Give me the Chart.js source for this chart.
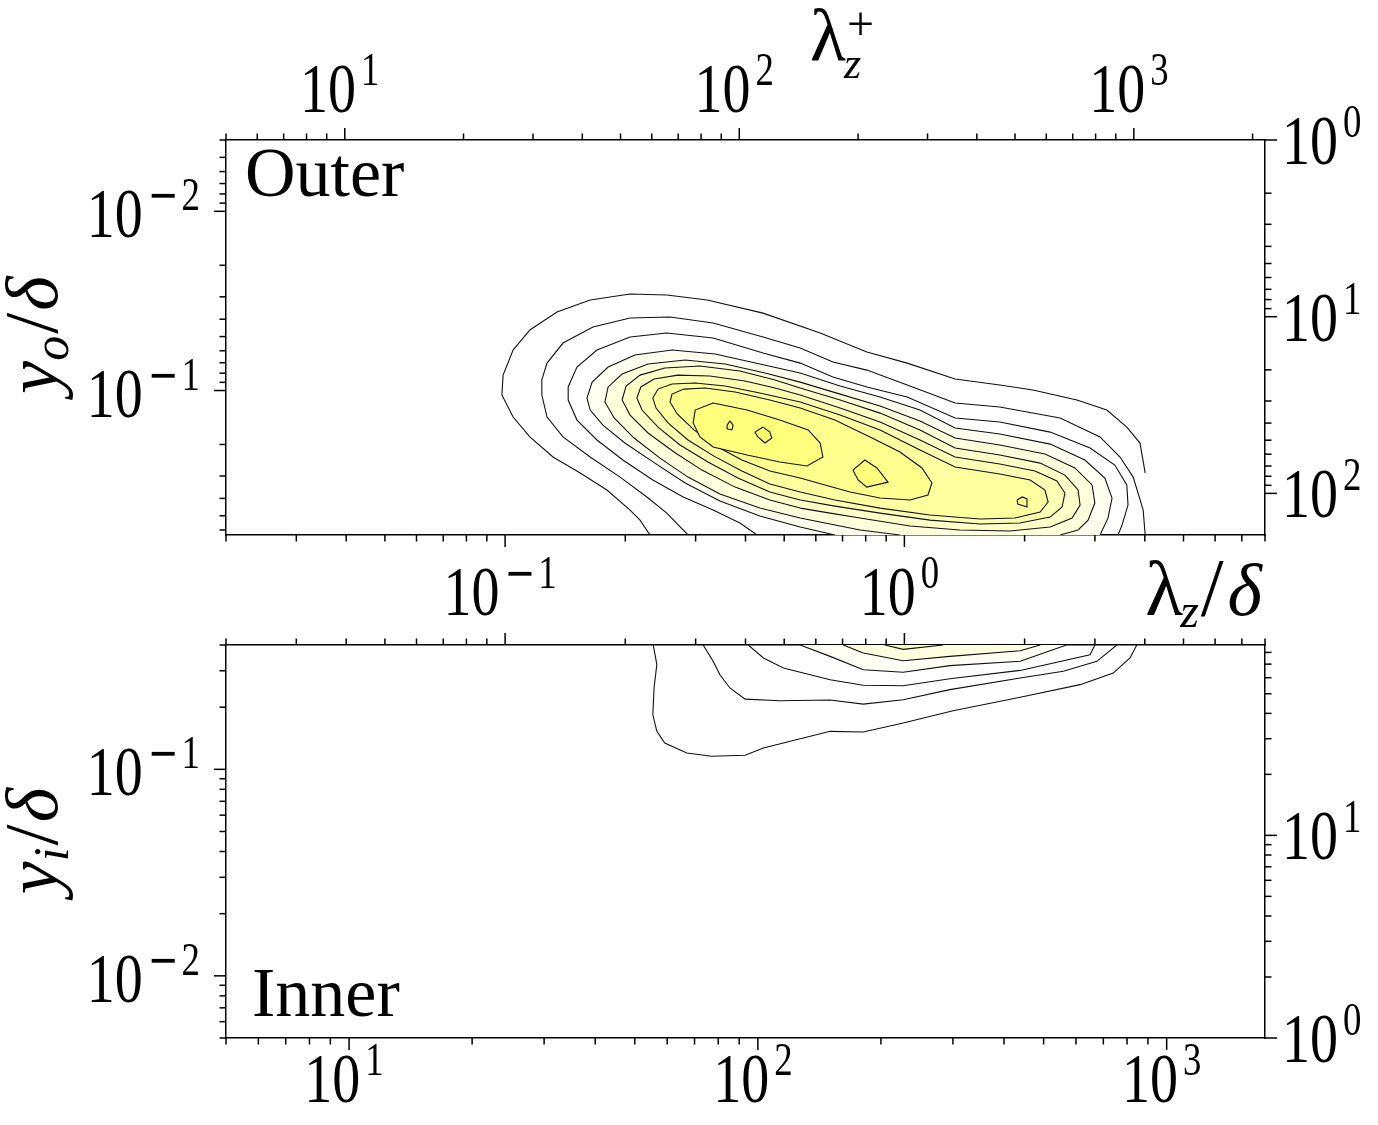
<!DOCTYPE html>
<html>
<head>
<meta charset="utf-8">
<script src="https://cdn.jsdelivr.net/npm/chart.js@4.4.1/dist/chart.umd.min.js"></script>
<style>
  body { margin: 0; background: #fff; }
  #wrap { position: relative; width: 1378px; height: 1125px; }
  canvas { position: absolute; left: 0; }
  #outer { top: 0; }
  #inner { top: 540px; }
</style>
</head>
<body>
<div id="wrap">
  <canvas id="outer" width="1378" height="550"></canvas>
  <canvas id="inner" width="1378" height="585"></canvas>
</div>
<script>
// axis ranges
const lamDeltaRange = [0.02, 8];
const outerLamPlusRange = [5, 2150];
const outerYRange = [0.004, 0.64];
const outerYPlusRange = [1, 172];
const innerLamPlusRange = [5, 1740];
const innerYRange = [0.005, 0.4];
const innerYPlusRange = [1, 87];

// labelled (major) ticks
const lamDeltaTicks = [0.1, 1];
const lamPlusTicks = [10, 100, 1000];
const outerYTicks = [0.01, 0.1];
const outerYPlusTicks = [1, 10, 100];
const innerYTicks = [0.01, 0.1];
const innerYPlusTicks = [1, 10];

// contour lines as [log10(lambda_z/delta), log10(y/delta)]
// outer region (top panel), outermost level first
const outerLevelA = [[-0.637,-0.194],[-0.662,-0.277],[-0.687,-0.333],[-0.745,-0.445],[-0.812,-0.540],[-0.880,-0.629],
  [-0.938,-0.741],[-0.980,-0.852],[-1.008,-0.975],[-1.005,-1.086],[-0.980,-1.226],[-0.938,-1.338],[-0.870,-1.438],
  [-0.787,-1.505],[-0.687,-1.539],[-0.595,-1.533],[-0.494,-1.505],[-0.354,-1.432],[-0.211,-1.321],[-0.094,-1.215],
  [0.007,-1.153],[0.127,-1.064],[0.239,-1.031],[0.322,-1.003],[0.432,-0.947],[0.507,-0.891],[0.557,-0.796],
  [0.590,-0.707],[0.603,-0.540]];
const outerLevelB = [[-0.542,-0.194],[-0.595,-0.316],[-0.645,-0.406],[-0.712,-0.517],[-0.787,-0.629],[-0.855,-0.741],
  [-0.895,-0.852],[-0.908,-0.975],[-0.908,-1.059],[-0.895,-1.153],[-0.855,-1.265],[-0.780,-1.354],[-0.687,-1.405],
  [-0.587,-1.410],[-0.479,-1.377],[-0.354,-1.299],[-0.261,-1.237],[-0.179,-1.159],[-0.094,-1.114],[0.007,-1.031],
  [0.127,-0.930],[0.239,-0.908],[0.390,-0.847],[0.490,-0.741],[0.540,-0.629],[0.573,-0.517],[0.598,-0.333],
  [0.603,-0.194]];
const outerLevelC = [[-0.369,-0.194],[-0.412,-0.261],[-0.479,-0.333],[-0.554,-0.406],[-0.630,-0.501],[-0.705,-0.612],
  [-0.770,-0.724],[-0.820,-0.835],[-0.842,-0.947],[-0.842,-1.020],[-0.820,-1.131],[-0.770,-1.226],[-0.687,-1.299],
  [-0.595,-1.321],[-0.479,-1.293],[-0.354,-1.209],[-0.261,-1.153],[-0.179,-1.075],[-0.094,-1.020],[0.007,-0.964],
  [0.127,-0.847],[0.239,-0.824],[0.365,-0.768],[0.465,-0.679],[0.527,-0.584],[0.557,-0.473],[0.560,-0.361],
  [0.545,-0.249],[0.535,-0.194]];
const outerLevelD = [[-0.174,-0.194],[-0.261,-0.238],[-0.362,-0.300],[-0.462,-0.383],[-0.549,-0.484],[-0.625,-0.595],
  [-0.700,-0.707],[-0.755,-0.807],[-0.787,-0.891],[-0.795,-0.958],[-0.782,-1.047],[-0.742,-1.131],[-0.675,-1.198],
  [-0.582,-1.226],[-0.474,-1.204],[-0.362,-1.148],[-0.261,-1.098],[-0.161,-1.025],[-0.061,-0.964],[0.039,-0.891],
  [0.127,-0.791],[0.239,-0.757],[0.365,-0.701],[0.452,-0.612],[0.502,-0.512],[0.520,-0.400],[0.510,-0.289],
  [0.490,-0.194]];
const outerLevelE = [[-0.011,-0.194],[-0.111,-0.222],[-0.186,-0.255],[-0.261,-0.289],[-0.362,-0.344],[-0.462,-0.422],
  [-0.542,-0.517],[-0.612,-0.623],[-0.677,-0.735],[-0.727,-0.847],[-0.750,-0.936],[-0.742,-1.020],[-0.707,-1.092],
  [-0.642,-1.148],[-0.549,-1.170],[-0.449,-1.148],[-0.349,-1.098],[-0.261,-1.047],[-0.161,-0.980],[-0.061,-0.914],
  [0.039,-0.830],[0.127,-0.735],[0.239,-0.696],[0.352,-0.646],[0.427,-0.568],[0.470,-0.473],[0.477,-0.372],
  [0.460,-0.277],[0.435,-0.222],[0.390,-0.194]];
const outerLevelF = [[-0.261,-0.344],[-0.337,-0.389],[-0.424,-0.461],[-0.507,-0.556],[-0.577,-0.657],[-0.642,-0.763],
  [-0.687,-0.863],[-0.707,-0.947],[-0.697,-1.025],[-0.662,-1.086],[-0.600,-1.126],[-0.512,-1.137],[-0.412,-1.109],
  [-0.324,-1.059],[-0.261,-1.014],[-0.161,-0.947],[-0.061,-0.874],[0.039,-0.780],[0.127,-0.679],[0.239,-0.640],
  [0.340,-0.595],[0.402,-0.528],[0.435,-0.445],[0.440,-0.361],[0.420,-0.289],[0.365,-0.238],[0.264,-0.216],
  [0.139,-0.222],[0.014,-0.244],[-0.111,-0.289],[-0.186,-0.316],[-0.261,-0.344]];
const outerLevelG = [[-0.261,-0.389],[-0.337,-0.434],[-0.417,-0.512],[-0.492,-0.601],[-0.562,-0.696],[-0.617,-0.796],
  [-0.657,-0.891],[-0.670,-0.958],[-0.660,-1.020],[-0.627,-1.064],[-0.567,-1.086],[-0.487,-1.081],[-0.399,-1.053],
  [-0.324,-1.014],[-0.261,-0.975],[-0.161,-0.902],[-0.061,-0.824],[0.039,-0.724],[0.127,-0.629],[0.239,-0.590],
  [0.327,-0.551],[0.382,-0.495],[0.402,-0.428],[0.395,-0.350],[0.365,-0.294],[0.289,-0.261],[0.189,-0.255],
  [0.064,-0.277],[-0.061,-0.316],[-0.174,-0.355],[-0.261,-0.389]];
const outerLevelH = [[-0.261,-0.434],[-0.337,-0.478],[-0.407,-0.551],[-0.477,-0.634],[-0.542,-0.724],[-0.592,-0.819],
  [-0.622,-0.902],[-0.630,-0.958],[-0.617,-1.008],[-0.582,-1.036],[-0.524,-1.042],[-0.449,-1.025],[-0.362,-0.986],
  [-0.261,-0.936],[-0.161,-0.863],[-0.061,-0.780],[0.039,-0.668],[0.127,-0.573],[0.239,-0.534],[0.315,-0.501],
  [0.352,-0.445],[0.360,-0.378],[0.340,-0.322],[0.277,-0.289],[0.189,-0.283],[0.064,-0.305],[-0.061,-0.344],
  [-0.174,-0.389],[-0.261,-0.434]];
const outerLevelI = [[-0.261,-0.512],[-0.337,-0.551],[-0.407,-0.612],[-0.472,-0.690],[-0.527,-0.780],[-0.569,-0.869],
  [-0.587,-0.936],[-0.582,-0.980],[-0.552,-1.008],[-0.499,-1.014],[-0.424,-0.992],[-0.337,-0.947],[-0.261,-0.902],
  [-0.174,-0.835],[-0.086,-0.741],[-0.011,-0.657],[0.044,-0.568],[0.069,-0.484],[0.059,-0.417],[0.014,-0.389],
  [-0.061,-0.400],[-0.136,-0.434],[-0.199,-0.473],[-0.261,-0.512]];
const outerLevelIRight = [[0.282,-0.389],[0.295,-0.406],[0.307,-0.395],[0.307,-0.350],[0.284,-0.367],[0.282,-0.389]];
const outerLevelJ = [[-0.479,-0.930],[-0.394,-0.891],[-0.312,-0.835],[-0.241,-0.780],[-0.211,-0.707],[-0.204,-0.629],
  [-0.244,-0.579],[-0.312,-0.601],[-0.394,-0.640],[-0.479,-0.685],[-0.512,-0.741],[-0.529,-0.819],[-0.524,-0.891],
  [-0.479,-0.930]];
const outerLevelJMid = [[-0.129,-0.556],[-0.099,-0.612],[-0.069,-0.568],[-0.041,-0.489],[-0.094,-0.461],
  [-0.116,-0.501],[-0.129,-0.556]];
const outerLevelK1 = [[-0.444,-0.807],[-0.437,-0.830],[-0.429,-0.807],[-0.432,-0.780],[-0.442,-0.785],[-0.444,-0.807]];
const outerLevelK2 = [[-0.354,-0.796],[-0.337,-0.768],[-0.332,-0.735],[-0.349,-0.707],[-0.367,-0.741],[-0.374,-0.768],
  [-0.354,-0.796]];

// inner region (bottom panel), outermost level first
const innerLevel1 = [[-0.629,-0.398],[-0.620,-0.493],[-0.627,-0.606],[-0.630,-0.736],[-0.620,-0.816],[-0.600,-0.873],
  [-0.545,-0.921],[-0.483,-0.937],[-0.399,-0.932],[-0.353,-0.897],[-0.186,-0.816],[-0.103,-0.819],[-0.003,-0.776],
  [0.122,-0.716],[0.290,-0.651],[0.440,-0.590],[0.523,-0.534],[0.565,-0.461],[0.582,-0.398]];
const innerLevel2 = [[-0.504,-0.398],[-0.479,-0.477],[-0.462,-0.542],[-0.437,-0.606],[-0.399,-0.660],[-0.312,-0.668],
  [-0.186,-0.664],[-0.103,-0.684],[-0.003,-0.663],[0.114,-0.614],[0.290,-0.558],[0.398,-0.525],[0.482,-0.477],
  [0.532,-0.398]];
const innerLevel3 = [[-0.391,-0.398],[-0.353,-0.461],[-0.303,-0.509],[-0.186,-0.566],[-0.103,-0.593],[-0.003,-0.595],
  [0.114,-0.561],[0.290,-0.521],[0.465,-0.445],[0.477,-0.398]];
const innerLevel4 = [[-0.261,-0.398],[-0.186,-0.453],[-0.103,-0.518],[-0.003,-0.530],[0.114,-0.498],[0.290,-0.477],
  [0.406,-0.398]];
const innerLevel5 = [[-0.153,-0.398],[-0.103,-0.437],[-0.003,-0.474],[0.114,-0.453],[0.290,-0.426],[0.340,-0.398]];
const innerLevel6 = [[-0.049,-0.398],[-0.003,-0.419],[0.097,-0.398]];

// band fill colours (white to yellow), null = white
const outerLevels = [
  { pts: outerLevelA, fill: null },
  { pts: outerLevelB, fill: null },
  { pts: outerLevelC, fill: null },
  { pts: outerLevelD, fill: '#fffff0' },
  { pts: outerLevelE, fill: '#ffffdc' },
  { pts: outerLevelF, fill: '#ffffc8' },
  { pts: outerLevelG, fill: '#ffffb4' },
  { pts: outerLevelH, fill: '#ffffa0' },
  { pts: outerLevelI, fill: '#ffff8e' },
  { pts: outerLevelIRight, fill: '#ffff8e' },
  { pts: outerLevelJ, fill: '#ffff7c' },
  { pts: outerLevelJMid, fill: '#ffff7c' },
  { pts: outerLevelK1, fill: '#ffff6c' },
  { pts: outerLevelK2, fill: '#ffff6c' }
];
const innerLevels = [
  { pts: innerLevel1, fill: null },
  { pts: innerLevel2, fill: null },
  { pts: innerLevel3, fill: null },
  { pts: innerLevel4, fill: '#fffff3' },
  { pts: innerLevel5, fill: '#ffffe0' },
  { pts: innerLevel6, fill: '#ffffc0' }
];

const SERIF = '"Liberation Serif", "Times New Roman", serif';
const SANS = '"DejaVu Sans", sans-serif';
const TICK_SX = 0.8;

function toDataset(level, i, n, xAxisID, yAxisID) {
  return {
    data: level.pts.map(([lx, ly]) => ({ x: 10 ** lx, y: 10 ** ly })),
    xAxisID, yAxisID,
    borderColor: '#111',
    borderWidth: 1.1,
    pointRadius: 0,
    tension: 0,
    fill: level.fill ? 'shape' : false,
    backgroundColor: level.fill || 'rgba(0,0,0,0)',
    order: n - i
  };
}

function logTicks(min, max) {
  const out = [];
  for (let d = Math.floor(Math.log10(min)); d <= Math.ceil(Math.log10(max)); d++) {
    for (let k = 1; k <= 9; k++) {
      const v = k * Math.pow(10, d);
      if (v >= min * 0.9999 && v <= max * 1.0001) out.push({ v, major: k === 1 });
    }
  }
  return out;
}

function fontOf(p) {
  return (p.italic ? 'italic ' : '') + p.size + 'px ' + (p.family || SERIF);
}

function partsWidth(ctx, parts) {
  let w = 0;
  for (const p of parts) {
    ctx.font = fontOf(p);
    w += (p.dx || 0) + ctx.measureText(p.text).width * (p.sx ?? 1);
  }
  return w;
}

function drawParts(ctx, parts, x, y) {
  let cx = x;
  for (const p of parts) {
    ctx.font = fontOf(p);
    cx += p.dx || 0;
    ctx.save();
    ctx.translate(cx, y + (p.dy || 0));
    ctx.scale(p.sx ?? 1, 1);
    ctx.fillText(p.text, 0, 0);
    ctx.restore();
    cx += ctx.measureText(p.text).width * (p.sx ?? 1);
  }
}

function tickParts(v) {
  const n = Math.round(Math.log10(v));
  const parts = [{ text: '10', size: 70, sx: TICK_SX }];
  if (n < 0) {
    parts.push({ text: '\u2212', size: 46, family: SANS, dy: -27, dx: 5, sx: TICK_SX });
    parts.push({ text: String(-n), size: 46, dy: -27, dx: 3, sx: TICK_SX });
  } else {
    parts.push({ text: String(n), size: 46, dy: -27, dx: 5, sx: TICK_SX });
  }
  return parts;
}

const decor = {
  id: 'decor',
  afterDraw(chart, args, opts) {
    const ctx = chart.ctx, area = chart.chartArea;
    ctx.save();
    ctx.strokeStyle = '#000';
    ctx.fillStyle = '#000';
    ctx.lineWidth = 1.5;
    ctx.textBaseline = 'alphabetic';
    ctx.textAlign = 'left';
    for (const ax of opts.axes) {
      const s = chart.scales[ax.id];
      for (const t of logTicks(s.min, s.max)) {
        const p = s.getPixelForValue(t.v), len = t.major ? 12 : 6.5;
        ctx.beginPath();
        if (ax.side === 'left') { ctx.moveTo(area.left, p); ctx.lineTo(area.left - len, p); }
        if (ax.side === 'right') { ctx.moveTo(area.right, p); ctx.lineTo(area.right + len, p); }
        if (ax.side === 'top') { ctx.moveTo(p, area.top); ctx.lineTo(p, area.top - len); }
        if (ax.side === 'bottom') { ctx.moveTo(p, area.bottom); ctx.lineTo(p, area.bottom + len); }
        ctx.stroke();
      }
      for (const v of ax.labels || []) {
        const p = s.getPixelForValue(v), parts = tickParts(v), w = partsWidth(ctx, parts);
        if (ax.side === 'left') drawParts(ctx, parts, area.left - 26 - w, p + 26);
        if (ax.side === 'right') drawParts(ctx, parts, area.right + 17, p + 24);
        if (ax.side === 'top') drawParts(ctx, parts, p - 5 - w / 2, area.top - ax.gap);
        if (ax.side === 'bottom') drawParts(ctx, parts, p - 5 - w / 2, area.bottom + ax.gap);
      }
    }
    for (const t of opts.texts) {
      ctx.save();
      ctx.translate(t.x, t.y);
      if (t.rot) ctx.rotate(t.rot);
      const w = partsWidth(ctx, t.parts);
      const x0 = t.align === 'center' ? -w / 2 : t.align === 'right' ? -w : 0;
      drawParts(ctx, t.parts, x0, 0);
      ctx.restore();
    }
    ctx.restore();
  }
};

function logAxis(position, range, reverse, size) {
  return {
    type: 'logarithmic',
    position,
    min: range[0],
    max: range[1],
    reverse: !!reverse,
    ticks: { display: false },
    grid: { display: false },
    border: { display: true, color: '#000', width: 1.5 },
    afterFit(scale) {
      if (position === 'left' || position === 'right') scale.width = size; else scale.height = size;
    }
  };
}

function makeChart(id, datasets, scales, axes, texts) {
  return new Chart(document.getElementById(id), {
    type: 'line',
    data: { datasets },
    options: {
      responsive: false,
      animation: false,
      events: [],
      layout: { padding: 0, autoPadding: false },
      scales,
      plugins: {
        legend: { display: false },
        tooltip: { enabled: false },
        decor: { axes, texts }
      }
    },
    plugins: [decor]
  });
}

// top panel: outer scaling
makeChart('outer',
  outerLevels.map((l, i) => toDataset(l, i, outerLevels.length, 'x', 'y')),
  {
    x: logAxis('bottom', lamDeltaRange, false, 15),
    xt: logAxis('top', outerLamPlusRange, false, 140),
    y: logAxis('left', outerYRange, true, 226),
    yr: logAxis('right', outerYPlusRange, true, 113)
  },
  [
    { id: 'x', side: 'bottom' },
    { id: 'xt', side: 'top', labels: lamPlusTicks, gap: 28 },
    { id: 'y', side: 'left', labels: outerYTicks },
    { id: 'yr', side: 'right', labels: outerYPlusTicks }
  ],
  [
    { x: 810, y: 60, parts: [
      { text: 'λ', size: 74 },
      { text: 'z', size: 44, italic: true, dy: 18, dx: -2 },
      { text: '+', size: 48, dy: -20, dx: -14 }
    ] },
    { x: 57, y: 335, rot: -Math.PI / 2, align: 'center', parts: [
      { text: 'y', size: 74, italic: true },
      { text: 'o', size: 50, italic: true, dy: 11 },
      { text: '/', size: 76, dx: 2 },
      { text: 'δ', size: 74, italic: true, dx: 2 }
    ] },
    { x: 245, y: 196, parts: [{ text: 'Outer', size: 70 }] }
  ]
);

// bottom panel: inner scaling
makeChart('inner',
  innerLevels.map((l, i) => toDataset(l, i, innerLevels.length, 'xt', 'y')),
  {
    x: logAxis('bottom', innerLamPlusRange, false, 87),
    xt: logAxis('top', lamDeltaRange, false, 105),
    y: logAxis('left', innerYRange, false, 226),
    yr: logAxis('right', innerYPlusRange, false, 113)
  },
  [
    { id: 'x', side: 'bottom', labels: lamPlusTicks, gap: 64 },
    { id: 'xt', side: 'top', labels: lamDeltaTicks, gap: 30 },
    { id: 'y', side: 'left', labels: innerYTicks },
    { id: 'yr', side: 'right', labels: innerYPlusTicks }
  ],
  [
    { x: 1262, y: 75, align: 'right', parts: [
      { text: 'λ', size: 78 },
      { text: 'z', size: 48, italic: true, dy: 12, dx: -3 },
      { text: '/', size: 82, dx: 2 },
      { text: 'δ', size: 74, italic: true, dx: 4 }
    ] },
    { x: 57, y: 301, rot: -Math.PI / 2, align: 'center', parts: [
      { text: 'y', size: 74, italic: true },
      { text: 'i', size: 50, italic: true, dy: 11 },
      { text: '/', size: 76, dx: 2 },
      { text: 'δ', size: 74, italic: true, dx: 2 }
    ] },
    { x: 252, y: 476, parts: [{ text: 'Inner', size: 70 }] }
  ]
);
</script>
</body>
</html>
